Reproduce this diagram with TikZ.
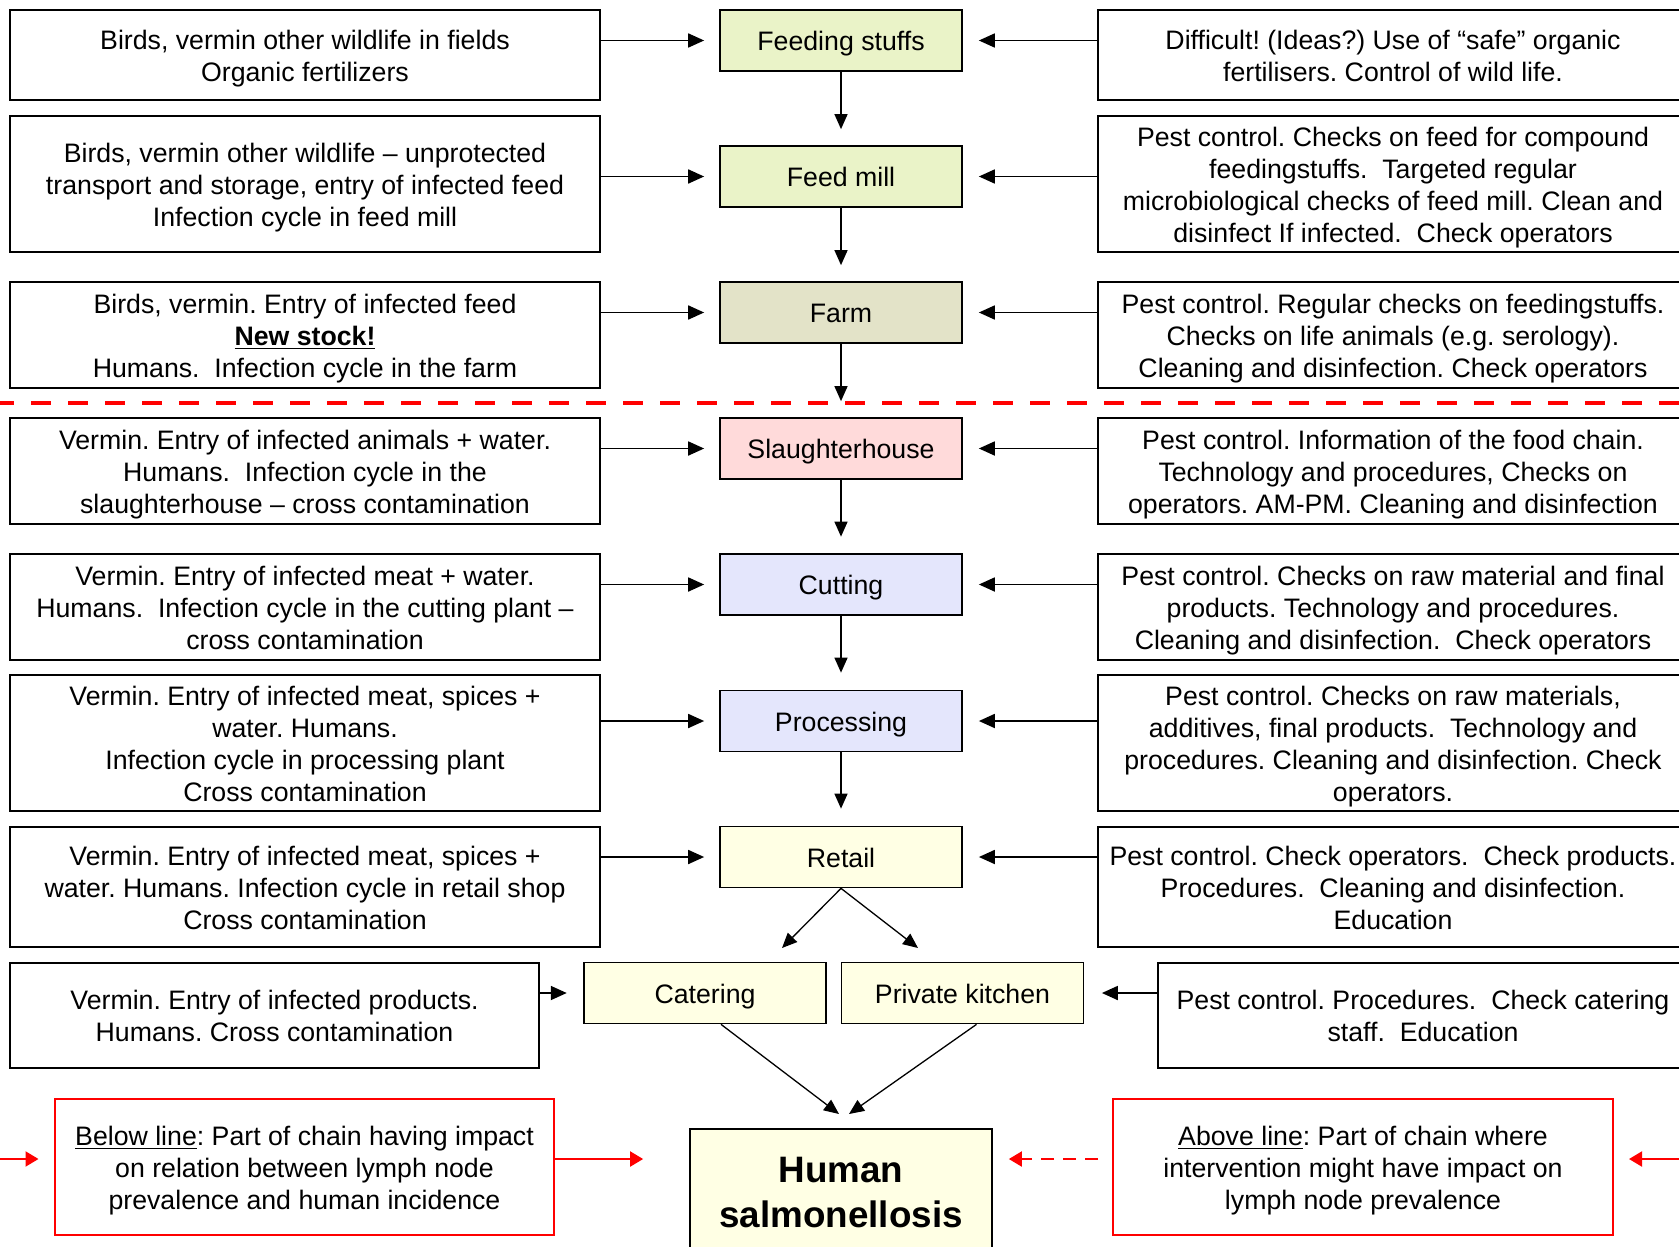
\documentclass[tikz,border=0pt]{standalone}
\usepackage{fontspec}
\setmainfont{Liberation Sans}
\usetikzlibrary{arrows.meta,calc}
\definecolor{cgreen}{RGB}{234,243,200}
\definecolor{cfarm}{RGB}{227,227,200}
\definecolor{cpink}{RGB}{255,218,218}
\definecolor{clav}{RGB}{228,230,252}
\definecolor{cyel}{RGB}{255,255,228}
\newcommand{\tb}[1]{\raisebox{0pt}[\dimexpr\height+3.8pt\relax][\depth]{\begin{tabular}{@{}c@{}}#1\end{tabular}}}
\tikzset{
  base/.style={draw, line width=0.85pt, inner sep=0pt,
    font=\fontsize{13.35}{16}\selectfont\frenchspacing},
  sidebox/.style={base, minimum width=295pt},
  chainbox/.style={base, minimum width=121pt, minimum height=30.5pt},
  redbox/.style={base, draw=red, line width=1pt, minimum height=68pt},
  arr/.style={line width=0.9pt, -{Triangle[length=8pt,width=7pt]}},
  varr/.style={line width=0.65pt, -{Triangle[length=7.5pt,width=6.5pt]}},
  redarr/.style={draw=red, line width=1pt, -{Triangle[length=6.5pt,width=7.5pt,fill=red]}},
}
\begin{document}
\begin{tikzpicture}[x=0.5pt,y=-0.5pt]
\useasboundingbox (0,0) rectangle (1679,1246);
\clip (0,0) rectangle (1679,1246);
\fill[white] (0,0) rectangle (1679,1246);

% chain boxes
\node[chainbox, fill=cgreen] (fs) at (841,40.5) {\tb{Feeding stuffs}};
\node[chainbox, fill=cgreen] (fm) at (841,176.5) {\tb{Feed mill}};
\node[chainbox, fill=cfarm] (fa) at (841,312.5) {\tb{Farm}};
\node[chainbox, fill=cpink] (sl) at (841,448.5) {\tb{Slaughterhouse}};
\node[chainbox, fill=clav] (cu) at (841,584.5) {\tb{Cutting}};
\node[chainbox, fill=clav] (pr) at (841,721) {\tb{Processing}};
\node[chainbox, fill=cyel] (re) at (841,857) {\tb{Retail}};
\node[chainbox, fill=cyel] (cat) at (705,993) {\tb{Catering}};
\node[chainbox, fill=cyel] (pk) at (962.5,993) {\tb{Private kitchen}};
\node[base, fill=cyel, minimum width=151pt, minimum height=63.5pt, align=center,
  font=\bfseries\fontsize{18.4}{22.5}\selectfont] (hum) at (841,1192.5)
  {Human\\salmonellosis};

% left boxes
\node[sidebox, minimum height=45pt] (l1) at (305,55) {\tb{Birds, vermin other wildlife in fields\\Organic fertilizers}};
\node[sidebox, minimum height=68pt] (l2) at (305,184) {\tb{Birds, vermin other wildlife – unprotected\\transport and storage, entry of infected feed\\Infection cycle in feed mill}};
\node[sidebox, minimum height=53pt] (l3) at (305,335) {\tb{Birds, vermin. Entry of infected feed\\\textbf{\underline{New stock!}}\\Humans.\ \ Infection cycle in the farm}};
\node[sidebox, minimum height=53pt] (l4) at (305,471) {\tb{Vermin. Entry of infected animals + water.\\Humans.\ \ Infection cycle in the\\slaughterhouse – cross contamination}};
\node[sidebox, minimum height=53pt] (l5) at (305,607) {\tb{Vermin. Entry of infected meat + water.\\Humans.\ \ Infection cycle in the cutting plant –\\cross contamination}};
\node[sidebox, minimum height=68pt] (l6) at (305,743) {\tb{Vermin. Entry of infected meat, spices +\\water. Humans.\\Infection cycle in processing plant\\Cross contamination}};
\node[sidebox, minimum height=60pt] (l7) at (305,887) {\tb{Vermin. Entry of infected meat, spices +\\water. Humans. Infection cycle in retail shop\\Cross contamination}};
\node[base, minimum width=264.5pt, minimum height=52.5pt] (l8) at (274.5,1015.5) {\tb{Vermin. Entry of infected products.\\Humans. Cross contamination}};

% right boxes
\node[sidebox, minimum height=45pt] (r1) at (1393,55) {\tb{Difficult! (Ideas?) Use of “safe” organic\\fertilisers. Control of wild life.}};
\node[sidebox, minimum height=68pt] (r2) at (1393,184) {\tb{Pest control. Checks on feed for compound\\feedingstuffs.\ \ Targeted regular\\microbiological checks of feed mill. Clean and\\disinfect If infected.\ \ Check operators}};
\node[sidebox, minimum height=53pt] (r3) at (1393,335) {\tb{Pest control. Regular checks on feedingstuffs.\\Checks on life animals (e.g. serology).\\Cleaning and disinfection. Check operators}};
\node[sidebox, minimum height=53pt] (r4) at (1393,471) {\tb{Pest control. Information of the food chain.\\Technology and procedures, Checks on\\operators. AM-PM. Cleaning and disinfection}};
\node[sidebox, minimum height=53pt] (r5) at (1393,607) {\tb{Pest control. Checks on raw material and final\\products. Technology and procedures.\\Cleaning and disinfection.\ \ Check operators}};
\node[sidebox, minimum height=68pt] (r6) at (1393,743) {\tb{Pest control. Checks on raw materials,\\additives, final products.\ \ Technology and\\procedures. Cleaning and disinfection. Check\\operators.}};
\node[sidebox, minimum height=60pt] (r7) at (1393,887) {\tb{Pest control. Check operators.\ \ Check products.\\Procedures.\ \ Cleaning and disinfection.\\Education}};
\node[base, minimum width=265pt, minimum height=52.5pt] (r8) at (1423,1015.5) {\tb{Pest control. Procedures.\ \ Check catering\\staff.\ \ Education}};

% red boxes
\node[redbox, minimum width=249.5pt] (redL) at (304.5,1167) {\tb{\underline{Below line}: Part of chain having impact\\on relation between lymph node\\prevalence and human incidence}};
\node[redbox, minimum width=250pt] (redR) at (1363,1167) {\tb{\underline{Above line}: Part of chain where\\intervention might have impact on\\lymph node prevalence}};

% chain arrows
\draw[varr, shorten >=8pt] (fs) -- (fm);
\draw[varr, shorten >=8pt] (fm) -- (fa);
\draw[varr, shorten >=8pt] (fa) -- (sl);
\draw[varr, shorten >=8.25pt] (sl) -- (cu);
\draw[varr, shorten >=8.5pt] (cu) -- (pr);
\draw[varr, shorten >=8.5pt] (pr) -- (re);
\coordinate (rc) at (782,948);
\coordinate (rp) at (918,948);
\draw[varr] (re.south) -- (rc);
\draw[varr] (re.south) -- (rp);
\coordinate (hc) at (839,1114);
\coordinate (hp) at (849,1114);
\draw[varr] ([xshift=8pt]cat.south) -- (hc);
\draw[varr] ([xshift=7pt]pk.south) -- (hp);

% side arrows
\foreach \l/\c in {l1/fs,l2/fm,l3/fa,l4/sl,l5/cu,l6/pr,l7/re}{
  \draw[arr, shorten >=7.5pt] (\l.east |- \c.west) -- (\c.west);
}
\foreach \r/\c in {r1/fs,r2/fm,r3/fa,r4/sl,r5/cu,r6/pr,r7/re}{
  \draw[arr, shorten >=8pt] (\r.west |- \c.east) -- (\c.east);
}
\draw[arr, shorten >=8.2pt] (l8.east |- cat.west) -- (cat.west);
\draw[arr, shorten >=8.75pt] (r8.west |- pk.east) -- (pk.east);

% dashed red line
\draw[red, line width=2pt, dash pattern=on 10pt off 8.5pt, dash phase=3pt] (0,402.7) -- (1679,402.7);

% red arrows
\coordinate (rl) at (0,1159);
\coordinate (rr) at (1679,1159);
\draw[redarr, shorten >=7.75pt] (rl) -- (rl -| redL.west);
\draw[redarr, shorten >=23pt] (redL.east |- rl) -- (rl -| hum.west);
\draw[redarr, dash pattern=on 6.5pt off 4.5pt, shorten <=7pt, shorten >=8pt] (redR.west |- rl) -- (rl -| hum.east);
\draw[redarr, shorten >=7.5pt] (rr) -- (rl -| redR.east);
\end{tikzpicture}
\end{document}
